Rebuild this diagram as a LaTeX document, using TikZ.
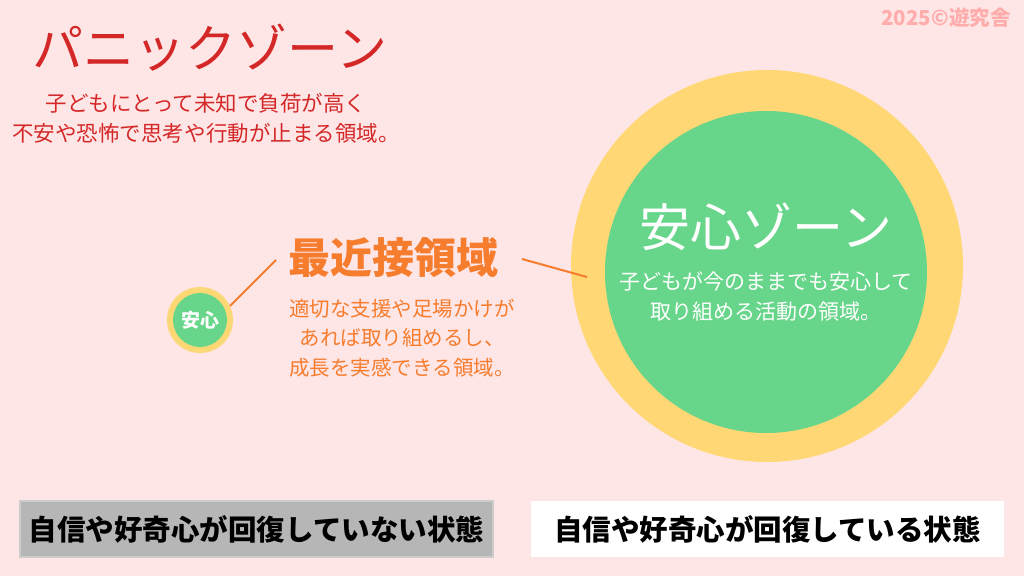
\documentclass[tikz,border=0pt]{standalone}
\usepackage{fontspec}
\setmainfont{Noto Sans CJK JP}
\usepackage{xcolor}
\definecolor{bgpink}{RGB}{255,230,230}
\definecolor{panicred}{RGB}{212,40,40}
\definecolor{zpdorange}{RGB}{246,124,46}
\definecolor{ringyellow}{RGB}{255,216,117}
\definecolor{safegreen}{RGB}{104,214,138}
\definecolor{boxgray}{RGB}{182,182,182}
\definecolor{markpink}{RGB}{255,172,172}
\newcommand{\fs}[2]{\fontsize{#1bp}{#2bp}\selectfont}
\tikzset{
  ring/.style={circle,fill=ringyellow,inner sep=0pt},
  core/.style={circle,fill=safegreen,inner sep=0pt},
  statebox/.style={minimum width=473bp,minimum height=56bp,inner sep=0pt,font=\fs{28.5}{32}\bfseries},
  desc/.style={align=center,font=\fs{21}{30}}
}

\begin{document}
\begin{tikzpicture}[x=1bp,y=-1bp]
\fill[bgpink] (0,0) rectangle (1024,576);
\useasboundingbox (0,0) rectangle (1024,576);
\node (mark) at (946,18) [text=markpink,font=\fs{20.5}{24}\bfseries] {2025©遊究舎};
% panic zone
\node (panic) at (210,48) [text=panicred,font=\fs{51}{56}] {パニックゾーン};
\node (panicdesc) at (206,118) [desc,text=panicred,font=\fs{21.5}{30}] {子どもにとって未知で負荷が高く\\不安や恐怖で思考や行動が止まる領域。};
% comfort zone
\node (big) at (767,266) [ring,minimum size=392bp] {};
\node (bigcore) at (766,272) [core,minimum size=322bp] {};
\node (safe) at (766,227) [text=white,font=\fs{51}{56}] {安心ゾーン};
\node (safedesc) at (766,297) [desc,text=white] {子どもが今のままでも安心して\\取り組める活動の領域。};
\node (small) at (200,320) [ring,minimum size=66bp] {};
\node (smallcore) at (200,320) [core,minimum size=54bp,text=white,font=\fs{19}{22}\bfseries] {安心};
% zpd
\node (zpd) at (393,258) [text=zpdorange,font=\fs{42}{48}\bfseries] {最近接領域};
\node (zpddesc) at (402,338) [desc,text=zpdorange,font=\fs{20.5}{29.5}] {適切な支援や足場かけが\\あれば取り組めるし、\\成長を実感できる領域。};
\coordinate (lt) at (276,260);
\coordinate (rt) at (522,259);
\coordinate (re) at (587,277);
\draw[zpdorange,line width=2bp] (small.25) -- (lt);
\draw[zpdorange,line width=2bp] (rt) -- (re);
% states
\node (notyet) at (256.5,529) [statebox,fill=boxgray,draw=boxgray!70!white,line width=1.5bp] {自信や好奇心が回復していない状態};
\node (recovered) at (767.5,529) [statebox,fill=white] {自信や好奇心が回復している状態};
\end{tikzpicture}
\end{document}
